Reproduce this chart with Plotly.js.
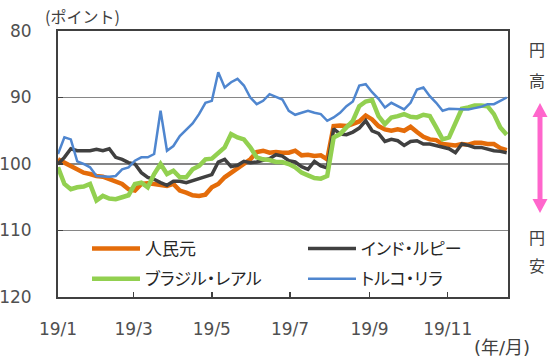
<!DOCTYPE html>
<html>
<head>
<meta charset="utf-8">
<script src="https://cdn.plot.ly/plotly-3.0.1.min.js"></script>
<style>
body{margin:0;background:#fff}
#chart{width:550px;height:360px}
.infolayer g[class^="legend"] text{font-feature-settings:"palt" 1;}
</style>
</head>
<body>
<div id="chart"></div>
<script>
const dates = ['2019-01-01','2019-01-06','2019-01-11','2019-01-16','2019-01-21','2019-01-26','2019-01-31',
'2019-02-05','2019-02-10','2019-02-15','2019-02-20','2019-02-25','2019-03-02','2019-03-07','2019-03-12',
'2019-03-17','2019-03-22','2019-03-27','2019-04-01','2019-04-06','2019-04-11','2019-04-16','2019-04-21',
'2019-04-26','2019-05-01','2019-05-06','2019-05-11','2019-05-16','2019-05-21','2019-05-26','2019-05-31',
'2019-06-05','2019-06-10','2019-06-15','2019-06-20','2019-06-25','2019-06-30','2019-07-05','2019-07-10',
'2019-07-15','2019-07-20','2019-07-25','2019-07-30','2019-08-04','2019-08-09','2019-08-14','2019-08-19',
'2019-08-24','2019-08-29','2019-09-03','2019-09-08','2019-09-13','2019-09-18','2019-09-23','2019-09-28',
'2019-10-03','2019-10-08','2019-10-13','2019-10-18','2019-10-23','2019-10-28','2019-11-02','2019-11-07',
'2019-11-12','2019-11-17','2019-11-22','2019-11-27','2019-12-02','2019-12-07','2019-12-12','2019-12-17'];

const seriesNames = ['人民元','インド・ルピー','ブラジル・レアル','トルコ・リラ'];

const cny = [99.3,99.8,100.4,100.8,101.3,101.5,101.8,101.9,102.3,102.6,103,103.8,104,103,102.9,103,103.2,103.3,
103,104,104.3,104.7,104.8,104.6,103.5,103,102,101.3,100.5,99.8,99.3,98.2,98,98.3,98.2,98.3,98.3,98,98.7,98.6,
98.8,98.7,99.3,94.3,94.2,94.3,94,93.6,92.7,93.3,94.3,94.8,95,94.8,95,94.4,95.2,95.9,96.3,96.4,97,97.1,97.2,
97,97.1,96.8,96.8,97,97,97.6,97.9];

const inr = [100,99,97.7,98,98,98,97.8,98,97.7,99,99.3,99.8,100,101.3,102,102.3,102.8,103.2,102.6,102.6,102.8,
102.5,102.2,101.8,101.6,99.7,99.3,100.4,100.2,99.6,99.8,99.7,99.5,99.2,98.6,98.8,99.5,99.7,100.4,100.8,99.6,
100.3,100.6,94.7,95.5,95.6,95.2,94.6,93.5,95,95.4,96.6,96.3,96.5,97.2,96.6,96.5,97,97,97.2,97.5,97.7,98.3,
97,97.2,97.5,97.5,97.8,98,98.1,98.3];

const brl = [100.5,103,103.8,103.5,103.4,103,105.5,104.8,105.2,105.3,105,104.7,103,102.8,103.5,101.5,100,101.5,
101,102,102,100.8,100.3,99.3,99.2,98.3,97.5,95.5,96,96.3,97.5,99,99.3,99.4,99.7,99.7,100,100.5,101.3,101.7,
102.1,102.2,101.8,96,95.5,94.5,93.5,91.3,90.6,90.4,92.8,94,93,92.8,92.5,92.9,93,92.6,92.8,94.5,96.3,96,94,
91.7,91.5,91.2,91.2,91.3,92.5,94.5,95.6];

const tryl = [98.5,96,96.3,99.6,100,100.5,101.8,101.9,101.9,101.8,100.8,100.5,99.5,99,99,98.5,92,98,97.3,95.8,
94.8,93.9,92.5,90.8,90.5,86.2,88.5,87.7,87.2,88.2,90,91,90.5,89.5,89.9,90.3,92,92.6,92.3,92,92.3,92.5,93.5,
93,92.3,91.3,90.6,88.2,88,89.2,90.2,91.5,90.8,91.3,91.8,90.8,88.8,88.5,89.8,90.8,92,91.7,91.7,91.8,91.8,
91.6,91.4,91,91,90.5,90];

const tickDates = ['2019-01-01','2019-03-01','2019-05-01','2019-07-01','2019-09-01','2019-11-01'];
const tickLabels = ['19/1','19/3','19/5','19/7','19/9','19/11'];
const yTicks = [80,90,100,110,120];

const colors = ['#E46C0A','#404040','#92D050','#4F86CF'];
const widths = [4.5,3.5,4.5,2.5];
const values = [cny, inr, brl, tryl];
const legendIds = ['legend','legend2','legend','legend2'];

const traces = values.map((v,i)=>({
  type:'scatter', mode:'lines', x:dates, y:v, name:seriesNames[i],
  line:{color:colors[i], width:widths[i]},
  legend:legendIds[i], legendgroup:'g'+i, hoverinfo:'skip'
}));

// pixel helpers for decorations (plot area: x 58..508, y 31..297)
const L=58,R=508,T=31,B=297;
const px = x => (x-L)/(R-L);
const py = y => (B-y)/(B-T);

const axisColor = '#404040';
const txtFont = {family:'DejaVu Sans, Noto Sans CJK JP', size:17, color:'#505050'};
const jpFont = {family:'Noto Sans CJK JP', size:16, color:'#404040'};

const legendBase = {
  orientation:'v', xanchor:'left', yanchor:'top', bgcolor:'rgba(0,0,0,0)',
  font:{family:'Noto Sans CJK JP', size:17, color:'#262626'},
  itemwidth:48, tracegroupgap:5, traceorder:'grouped'
};

const arrowX = 540;
const shapes = [
  {type:'rect', xref:'paper', yref:'paper', x0:px(arrowX-2.5), x1:px(arrowX+2.5), y0:py(205), y1:py(112),
   fillcolor:'#FF66CC', line:{width:0}},
  {type:'path', xref:'paper', yref:'paper',
   path:`M ${px(arrowX)} ${py(103)} L ${px(arrowX-7.5)} ${py(117)} L ${px(arrowX+7.5)} ${py(117)} Z`,
   fillcolor:'#FF66CC', line:{width:0}},
  {type:'path', xref:'paper', yref:'paper',
   path:`M ${px(arrowX)} ${py(213)} L ${px(arrowX-7.5)} ${py(199)} L ${px(arrowX+7.5)} ${py(199)} Z`,
   fillcolor:'#FF66CC', line:{width:0}}
];

const sideText = (t, y) => ({text:t, xref:'paper', yref:'paper', x:px(537), y:py(y),
  xanchor:'center', yanchor:'middle', showarrow:false, font:jpFont});

const annotations = [
  {text:'(ポイント)', xref:'paper', yref:'paper', x:px(43), y:py(16), xanchor:'left', yanchor:'middle', showarrow:false, font:jpFont},
  {text:'(年/月)', xref:'paper', yref:'paper', x:px(532), y:py(347), xanchor:'right', yanchor:'middle', showarrow:false,
   font:{family:'DejaVu Sans, Noto Sans CJK JP', size:18, color:'#404040'}},
  sideText('円',49), sideText('高',80), sideText('円',237), sideText('安',265)
];

const layout = {
  width:550, height:360,
  margin:{l:L, r:550-R, t:T, b:360-B, pad:0},
  paper_bgcolor:'#fff', plot_bgcolor:'#fff',
  showlegend:true,
  legend:Object.assign({}, legendBase, {x:px(87), y:py(231)}),
  legend2:Object.assign({}, legendBase, {x:px(303), y:py(231)}),
  xaxis:{type:'date', range:['2019-01-01','2019-12-18'], tickvals:tickDates, ticktext:tickLabels,
    ticks:'inside', ticklen:5, tickwidth:1.5, tickcolor:axisColor, showgrid:false, zeroline:false,
    showline:true, linecolor:axisColor, linewidth:2, mirror:true, tickfont:txtFont, ticklabelstandoff:16},
  yaxis:{range:[120,80], tickvals:yTicks, ticks:'inside', ticklen:5, tickwidth:1.5, tickcolor:axisColor,
    showgrid:true, gridcolor:'#868686', gridwidth:1.5, zeroline:false,
    showline:true, linecolor:axisColor, linewidth:2, mirror:true, tickfont:txtFont, ticklabelstandoff:21},
  shapes:shapes, annotations:annotations
};

Plotly.newPlot('chart', traces, layout, {staticPlot:true, displayModeBar:false});
</script>
</body>
</html>
